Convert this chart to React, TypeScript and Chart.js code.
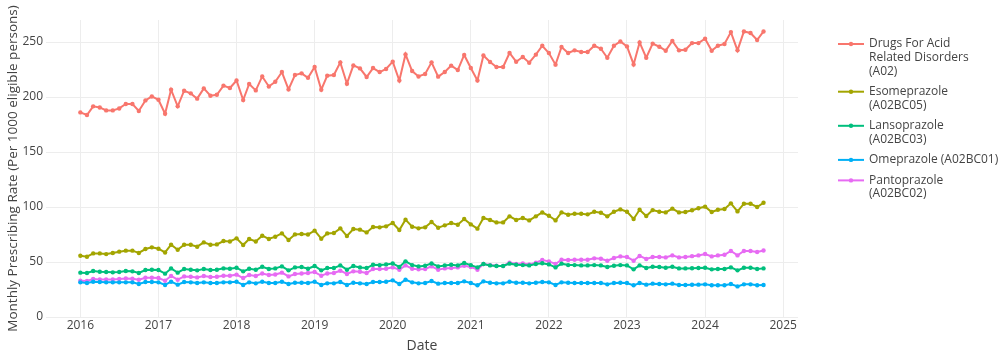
import React, { useEffect, useRef } from "react";
import { Chart, registerables } from "chart.js";

Chart.register(...registerables);

// Monthly series, Jan 2016 .. Oct 2024 (106 months)
const startYear = 2016;

const acidDisorders = [
  186, 183.6, 191.5, 190.5, 187.8, 187.8, 189.6, 193.6, 193.6, 187.3, 196.9, 200.5,
  197.5, 184.8, 206.6, 191.5, 205.7, 203.3, 198.5, 207.8, 201.2, 202, 210.3, 208.2,
  215, 197.2, 211.8, 206, 218.7, 209.6, 213.9, 222.7, 206.9, 220, 221.5, 217.5,
  227.3, 206.6, 219.4, 220, 231.5, 212.1, 228.7, 226, 218.2, 226.3, 222.7, 225.5,
  232.1, 215, 238.7, 223.6, 218.7, 220.9, 231.5, 218.5, 222.7, 228.5, 224.5, 238.2,
  226.3, 215, 237.8, 231.8, 227.3, 227.3, 240, 232.1, 236.4, 231.2, 238.5, 246.6,
  240, 229.4, 245.5, 240, 242.4, 240.9, 240.9, 246.6, 243.9, 235.7, 246.6, 250.5,
  246, 229.6, 249.6, 235.7, 248.5, 245.7, 242.1, 250.9, 242.4, 243, 249, 249,
  253, 242.1, 246.6, 248.2, 259, 242.4, 259.6, 258.2, 251.8, 259.6,
];

const esomeprazole = [
  55.7, 54.8, 57.8, 57.8, 57.2, 58.2, 59.4, 60.3, 60.3, 58.2, 61.8, 63.3,
  62.1, 58.7, 65.7, 61.2, 65.7, 65.7, 63.9, 67.8, 65.7, 66, 69.1, 68.7,
  71.5, 65.4, 70.9, 68.7, 73.9, 70.9, 73, 76, 70, 75.1, 75.4, 75,
  78.5, 71.2, 76, 76.3, 80.6, 73.6, 80, 79.4, 76.9, 81.8, 81.5, 82.4,
  85.5, 79.1, 88.5, 82.1, 80.6, 81.5, 86.4, 81.2, 83.3, 85.5, 83.9, 89.1,
  84.2, 80.3, 90, 88.2, 86, 86, 91.5, 88.2, 90, 87.8, 91.5, 95,
  92, 87.8, 95.1, 93, 93.9, 93.9, 93.3, 95.7, 94.8, 91.5, 95.7, 97.8,
  95.7, 89.1, 97.5, 91.8, 97.2, 95.7, 95.1, 98.5, 95.1, 95.4, 97, 98.8,
  100.3, 95.4, 97.5, 98.2, 103.3, 96, 103, 103, 100, 103.9,
];

const lansoprazole = [
  40.3, 40, 41.8, 41.2, 40.9, 40.6, 40.9, 41.8, 41.5, 40, 42.7, 43,
  42.7, 39.4, 44.2, 40.3, 43.6, 43, 42.4, 43.6, 42.7, 43, 44.2, 43.9,
  44.8, 41.5, 43.9, 43, 45.7, 43.6, 44.2, 46, 42.4, 45.1, 45.5, 43.9,
  46.4, 42.4, 44.5, 44.5, 46.9, 43, 46.4, 45.1, 44.5, 47.5, 47.2, 47.8,
  48.7, 45.5, 50.6, 47.2, 46, 46.6, 48.7, 46, 46.9, 47.5, 46.9, 49.1,
  47.2, 45.1, 48.2, 46.9, 46.4, 46.4, 48.5, 47.5, 47.2, 46.9, 48.2, 48.8,
  47.8, 45.1, 48.5, 47.2, 47.2, 46.9, 46.9, 47.2, 46.9, 45.5, 46.6, 47.2,
  46.9, 43.3, 46.9, 44.5, 45.7, 45.5, 44.8, 45.7, 44.2, 44.2, 44.3, 44.5,
  44.8, 43.3, 43.6, 43.6, 45.1, 42.4, 44.8, 44.8, 43.6, 44.2,
];

const omeprazole = [
  31.5, 30.9, 32.1, 31.8, 31.5, 31.5, 31.5, 31.5, 31.5, 30, 31.8, 31.8,
  31.5, 29.1, 32.1, 29.4, 31.8, 31.5, 30.9, 31.5, 30.9, 30.9, 31.5, 31.5,
  32.1, 29.1, 31.5, 30.6, 32.1, 30.9, 30.9, 32.1, 30, 31.2, 31.2, 30.9,
  32.1, 29.1, 30.6, 30.6, 31.8, 29.1, 31.2, 30.6, 30, 31.8, 31.8, 32.1,
  33.3, 30, 33.9, 31.5, 30.6, 30.9, 32.7, 30.3, 30.9, 30.9, 30.9, 32.4,
  30.9, 28.8, 32.4, 31.2, 30.6, 30.6, 32.1, 31.2, 31.2, 30.6, 31.2, 31.8,
  31.5, 29.1, 31.5, 31.2, 30.9, 30.9, 30.9, 30.9, 30.9, 29.7, 30.9, 31.2,
  30.9, 28.8, 30.9, 29.4, 30.3, 30, 29.7, 30.3, 29.1, 29.1, 29.3, 29.4,
  29.7, 28.8, 28.8, 28.8, 30, 27.8, 29.7, 29.7, 28.8, 29.1,
];

const pantoprazole = [
  33, 32.7, 34.5, 34.2, 34.2, 34.2, 34.5, 35.1, 34.8, 33.9, 35.7, 35.7,
  35.4, 33, 37.3, 33.9, 36.9, 36.6, 36, 37.3, 36.4, 36.6, 37.5, 37.5,
  38.5, 35.4, 38.2, 37.3, 39.6, 38.2, 38.7, 40.3, 36.9, 39.1, 39.6, 40,
  40.9, 37.5, 39.6, 40, 42.1, 39.1, 41.5, 41.2, 40, 43.6, 43.6, 43.9,
  45.1, 43, 46.9, 43.9, 43.3, 43.6, 46, 43, 44.2, 44.5, 45.1, 46.6,
  45.5, 43, 48.2, 47.2, 46.6, 46.4, 49.4, 48.2, 48.7, 47.8, 49.4, 51.8,
  50.6, 48.2, 52.1, 51.8, 52.1, 52.1, 52.1, 53.3, 53, 51.2, 53.6, 55.1,
  54.5, 51.2, 55.5, 52.7, 54.5, 54.5, 54.2, 56, 54.2, 54.5, 55.3, 56,
  57.3, 55.1, 56, 56.6, 60, 56, 60, 60, 59.1, 60.5,
];

const seriesValues = [acidDisorders, esomeprazole, lansoprazole, omeprazole, pantoprazole];
const seriesNames = [
  "Drugs For Acid Related Disorders (A02)",
  "Esomeprazole (A02BC05)",
  "Lansoprazole (A02BC03)",
  "Omeprazole (A02BC01)",
  "Pantoprazole (A02BC02)",
];
const legendLines = [
  ["Drugs For Acid", "Related Disorders", "(A02)"],
  ["Esomeprazole", "(A02BC05)"],
  ["Lansoprazole", "(A02BC03)"],
  ["Omeprazole (A02BC01)"],
  ["Pantoprazole", "(A02BC02)"],
];
const seriesColors = ["#F8766D", "#A3A500", "#00BF7D", "#00B0F6", "#E76BF3"];
const xTickValues = [2016, 2017, 2018, 2019, 2020, 2021, 2022, 2023, 2024, 2025];
const yTickValues = [0, 50, 100, 150, 200, 250];

const FONT = "'Open Sans', 'Noto Sans', sans-serif";
const TEXT = "#444444";

// month index -> fractional year (date position on a continuous time axis)
function monthToYear(i: number): number {
  const y = startYear + Math.floor(i / 12);
  const m = i % 12;
  const t0 = Date.UTC(y, 0, 1);
  const t1 = Date.UTC(y + 1, 0, 1);
  return y + (Date.UTC(y, m, 1) - t0) / (t1 - t0);
}

const legendPlugin = {
  id: "sideLegend",
  afterDraw(chart: any) {
    const ctx = chart.ctx;
    ctx.save();
    ctx.font = `12px ${FONT}`;
    ctx.textBaseline = "middle";
    ctx.textAlign = "left";
    let y = 44;
    const lineH = 13.6;
    chart.data.datasets.forEach((ds: any, i: number) => {
      const color = ds.borderColor;
      ctx.strokeStyle = color;
      ctx.lineWidth = 2;
      ctx.beginPath();
      ctx.moveTo(838, y);
      ctx.lineTo(864, y);
      ctx.stroke();
      ctx.fillStyle = color;
      ctx.beginPath();
      ctx.arc(851, y, 2.2, 0, Math.PI * 2);
      ctx.fill();
      ctx.fillStyle = TEXT;
      const lines = legendLines[i];
      lines.forEach((t, k) => {
        ctx.fillText(t, 869, y + k * lineH);
      });
      y += (lines.length - 1) * lineH + 20.5;
    });
    ctx.restore();
  },
};

export default function App() {
  const canvasRef = useRef<HTMLCanvasElement | null>(null);

  useEffect(() => {
    document.body.style.margin = "0";
    const canvas = canvasRef.current;
    if (!canvas) return;
    const datasets = seriesValues.map((vals, i) => ({
      label: seriesNames[i],
      data: vals.map((v, k) => ({ x: monthToYear(k), y: v })),
      borderColor: seriesColors[i],
      backgroundColor: seriesColors[i],
      pointBackgroundColor: seriesColors[i],
      pointBorderWidth: 0,
      pointRadius: 2.2,
      borderWidth: 2,
      tension: 0,
      fill: false,
    }));
    const chart = new Chart(canvas, {
      type: "line",
      data: { datasets },
      options: {
        animation: false,
        responsive: false,
        maintainAspectRatio: false,
        parsing: false as any,
        layout: { padding: { top: 20, right: 202, left: 0, bottom: 0 } },
        plugins: {
          legend: { display: false },
          tooltip: { enabled: false },
        },
        scales: {
          x: {
            type: "linear",
            min: 2015.56,
            max: 2025.19,
            afterBuildTicks: (s: any) => {
              s.ticks = xTickValues.map((v) => ({ value: v }));
            },
            afterFit: (s: any) => {
              s.height = 41;
            },
            ticks: {
              callback: (v: any) => String(v),
              color: TEXT,
              font: { family: FONT, size: 12 },
              maxRotation: 0,
              autoSkip: false,
              padding: 1,
            },
            grid: { color: "#ededed", lineWidth: 1, drawTicks: false },
            border: { display: false },
            title: {
              display: true,
              text: "Date",
              color: TEXT,
              font: { family: FONT, size: 14 },
              padding: { top: 0, bottom: 4 },
            },
          },
          y: {
            type: "linear",
            min: 0,
            max: 270,
            afterBuildTicks: (s: any) => {
              s.ticks = yTickValues.map((v) => ({ value: v }));
            },
            afterFit: (s: any) => {
              s.width = 46;
            },
            ticks: {
              color: TEXT,
              font: { family: FONT, size: 12 },
              padding: 3,
            },
            grid: { color: "#ededed", lineWidth: 1, drawTicks: false },
            border: { display: false },
            title: {
              display: true,
              text: "Monthly Prescribing Rate (Per 1000 eligible persons)",
              color: TEXT,
              font: { family: FONT, size: 13.5 },
              padding: { top: 5, bottom: 0 },
            },
          },
        },
      },
      plugins: [legendPlugin],
    });
    return () => chart.destroy();
  }, []);

  return (
    <div style={{ width: 1000, height: 358, position: "relative", background: "#fff" }}>
      <canvas ref={canvasRef} width={1000} height={358} style={{ display: "block" }} />
    </div>
  );
}
